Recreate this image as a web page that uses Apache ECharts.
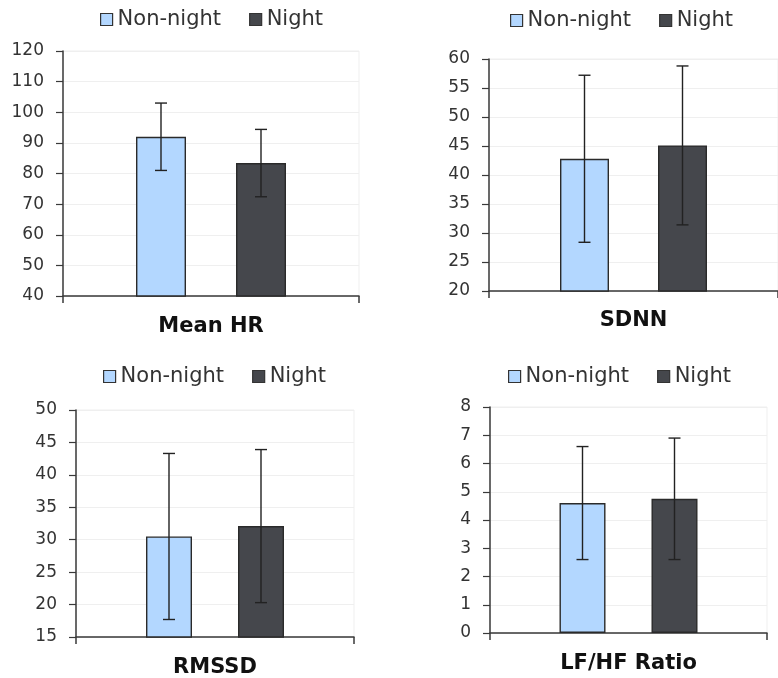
<!DOCTYPE html>
<html>
<head>
<meta charset="utf-8">
<script src="https://cdn.jsdelivr.net/npm/echarts@6/dist/echarts.min.js"></script>
<style>
html, body { margin: 0; padding: 0; background: #ffffff; }
#chart { width: 778px; height: 678px; }
</style>
</head>
<body>
<div id="chart"></div>
<script>
// Heart-rate variability measures, mean ± SD, non-night vs night
const panels = ['Mean HR', 'SDNN', 'RMSSD', 'LF/HF Ratio'];
const seriesNames = ['Non-night', 'Night'];
const nonNightMean = [92, 42.8, 30.5, 4.6];
const nonNightSD = [11, 14.4, 12.8, 2.0];
const nightMean = [83.4, 45.1, 32.1, 4.75];
const nightSD = [11, 13.7, 11.8, 2.15];
const yMin = [40, 20, 15, 0];
const yMax = [120, 60, 50, 8];
const yStep = [10, 5, 5, 1];

// Layout of the four small panels
const gridBoxes = [
  { left: 63, top: 51, width: 296, height: 245 },
  { left: 489, top: 59, width: 295, height: 232 },
  { left: 76, top: 410, width: 278, height: 228 },
  { left: 490, top: 407, width: 277, height: 226 }
];
const barWidths = [50, 49, 46, 46];
const legendBoxes = [
  { left: 100, top: 9 },
  { left: 510, top: 10 },
  { left: 103, top: 366 },
  { left: 508, top: 366 }
];
const labelGaps = [20, 19, 20, 20];

const FONT = 'DejaVu Sans';
const COLORS = ['#b3d7ff', '#45474c'];
const INK = '#3a3a3a';

function errorBars(seriesSide, panelIdx) {
  return function (params, api) {
    const mean = api.value(1);
    const sd = api.value(2);
    const top = api.coord([0, mean + sd]);
    const bottom = api.coord([0, mean - sd]);
    const x = top[0] + seriesSide * barWidths[panelIdx];
    const cap = 6;
    const style = { stroke: '#222222', lineWidth: 1.4 };
    return {
      type: 'group',
      children: [
        { type: 'line', shape: { x1: x, y1: top[1], x2: x, y2: bottom[1] }, style: style },
        { type: 'line', shape: { x1: x - cap, y1: top[1], x2: x + cap, y2: top[1] }, style: style },
        { type: 'line', shape: { x1: x - cap, y1: bottom[1], x2: x + cap, y2: bottom[1] }, style: style }
      ]
    };
  };
}

const option = {
  animation: false,
  backgroundColor: '#ffffff',
  textStyle: { fontFamily: FONT },
  grid: [], xAxis: [], yAxis: [], legend: [], series: []
};

panels.forEach(function (name, i) {
  const g = gridBoxes[i];
  option.grid.push({
    left: g.left, top: g.top, width: g.width, height: g.height,
    show: true, borderColor: '#efefef', borderWidth: 1, backgroundColor: 'transparent'
  });
  option.xAxis.push({
    type: 'category', gridIndex: i, data: [name], boundaryGap: true,
    axisLine: { lineStyle: { color: INK, width: 1.5 } },
    axisTick: { show: true, length: 7, lineStyle: { color: INK, width: 1.5 } },
    axisLabel: { fontSize: 21, fontWeight: 'bold', color: '#111111', fontFamily: FONT, margin: labelGaps[i] },
    splitLine: { show: false }
  });
  option.yAxis.push({
    type: 'value', gridIndex: i, min: yMin[i], max: yMax[i], interval: yStep[i],
    axisLine: { show: true, lineStyle: { color: INK, width: 1.5 } },
    axisTick: { show: true, length: 7, lineStyle: { color: INK, width: 1.2 } },
    axisLabel: { fontSize: 17, color: '#333333', fontFamily: FONT, margin: 19 },
    splitLine: { show: true, lineStyle: { color: '#efefef', width: 1 } }
  });
  option.legend.push({
    left: legendBoxes[i].left, top: legendBoxes[i].top, padding: 0,
    data: seriesNames, icon: 'rect', itemWidth: 12, itemHeight: 12, itemGap: 28,
    textStyle: { fontSize: 21, color: '#333333', fontFamily: FONT },
    itemStyle: { borderColor: '#333333', borderWidth: 1.2 }
  });
  const means = [nonNightMean[i], nightMean[i]];
  const sds = [nonNightSD[i], nightSD[i]];
  seriesNames.forEach(function (sName, s) {
    option.series.push({
      type: 'bar', name: sName, xAxisIndex: i, yAxisIndex: i,
      data: [means[s]], barWidth: barWidths[i], barGap: '100%',
      itemStyle: { color: COLORS[s], borderColor: '#2a2a2a', borderWidth: 1.4 },
      emphasis: { disabled: true }
    });
  });
  seriesNames.forEach(function (sName, s) {
    option.series.push({
      type: 'custom', name: sName + ' SD', xAxisIndex: i, yAxisIndex: i, z: 5,
      data: [[0, means[s], sds[s]]],
      renderItem: errorBars(s === 0 ? -1 : 1, i),
      encode: { x: 0, y: 1 }
    });
  });
});

const chart = echarts.init(document.getElementById('chart'), null, { renderer: 'canvas' });
chart.setOption(option);
</script>
</body>
</html>
